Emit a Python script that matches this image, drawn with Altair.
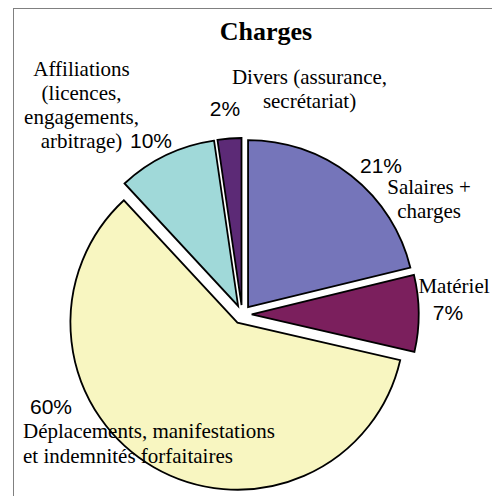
import altair as alt
import pandas as pd

# ---- data ----
keys = ["Salaires", "Materiel", "Deplacements", "Affiliations", "Divers"]
names = [
    "Salaires +\ncharges",
    "Matériel",
    "Déplacements, manifestations\net indemnités forfaitaires",
    "Affiliations\n(licences,\nengagements,\narbitrage)",
    "Divers (assurance,\nsecrétariat)",
]
values = [21.2, 7.4, 59.5, 9.6, 2.3]
title_text = "Charges"

# ---- layout / style (not data) ----
W, H = 484, 488
CX, CY, R, EXPLODE = 234.2, 306.5, 167, 9.5
colors = ["#7575BA", "#7B1F5D", "#F8F6C1", "#A0D9D9", "#5C2A76"]
name_pos = [(421, 186, "center"), (446, 285, "center"), (15, 430, "left"),
            (73.5, 68, "center"), (301.5, 76, "center")]
pct_pos = [(373, 165), (440, 312), (43, 406), (143, 140), (217, 108)]

df = pd.DataFrame({"cat": keys, "name": names, "value": values, "idx": list(range(len(keys)))})

lab = df.copy()
lab["nx"] = [p[0] for p in name_pos]
lab["ny"] = [p[1] for p in name_pos]
lab["al"] = [p[2] for p in name_pos]
lab["px"] = [p[0] for p in pct_pos]
lab["py"] = [p[1] for p in pct_pos]

pie = (
    alt.Chart(df)
    .transform_window(cum="sum(value)", sort=[alt.SortField("idx")], frame=[None, 0])
    .transform_joinaggregate(total="sum(value)")
    .transform_calculate(t1="datum.cum / datum.total * 2 * PI")
    .transform_calculate(t0="(datum.cum - datum.value) / datum.total * 2 * PI")
    .transform_calculate(mid="(datum.t0 + datum.t1) / 2")
    .transform_calculate(cx=f"{CX} + {EXPLODE} * sin(datum.mid)")
    .transform_calculate(cy=f"{CY} - {EXPLODE} * cos(datum.mid)")
    .mark_arc(radius=R, stroke="black", strokeWidth=1.8)
    .encode(
        theta=alt.Theta("t0:Q", scale=None),
        theta2="t1:Q",
        x=alt.X("cx:Q", scale=None, axis=None),
        y=alt.Y("cy:Q", scale=None, axis=None),
        color=alt.Color("cat:N", scale=alt.Scale(domain=keys, range=colors), legend=None),
    )
)

names_center = (
    alt.Chart(lab)
    .transform_filter("datum.al == 'center'")
    .mark_text(font="Liberation Serif", fontSize=21, align="center", baseline="alphabetic",
               lineBreak="\n", lineHeight=24, color="black")
    .encode(x=alt.X("nx:Q", scale=None, axis=None), y=alt.Y("ny:Q", scale=None, axis=None), text="name:N")
)

names_left = (
    alt.Chart(lab)
    .transform_filter("datum.al == 'left'")
    .mark_text(font="Liberation Serif", fontSize=21, align="left", baseline="alphabetic",
               lineBreak="\n", lineHeight=25, color="black")
    .encode(x=alt.X("nx:Q", scale=None, axis=None), y=alt.Y("ny:Q", scale=None, axis=None), text="name:N")
)

pcts = (
    alt.Chart(lab)
    .transform_calculate(pct="format(datum.value, '.0f') + '%'")
    .mark_text(font="Liberation Sans", fontSize=21, align="center", baseline="alphabetic", color="black")
    .encode(x=alt.X("px:Q", scale=None, axis=None), y=alt.Y("py:Q", scale=None, axis=None), text="pct:N")
)

one = pd.DataFrame({"t": [title_text]})
title = (
    alt.Chart(one)
    .mark_text(font="Liberation Serif", fontSize=26, fontWeight="bold", align="center",
               baseline="alphabetic", color="black")
    .encode(x=alt.value(258), y=alt.value(31.5), text="t:N")
)

border_left = alt.Chart(one).mark_rule(color="#808080", strokeWidth=1).encode(
    x=alt.value(5.5), y=alt.value(0), y2=alt.value(H))
border_top = alt.Chart(one).mark_rule(color="#808080", strokeWidth=1).encode(
    x=alt.value(5.5), x2=alt.value(W), y=alt.value(0.5))

chart = (
    alt.layer(border_left, border_top, pie, names_center, names_left, pcts, title)
    .properties(width=W, height=H, padding=0, autosize=alt.AutoSizeParams(type="none"),
                background="white")
    .configure_view(strokeWidth=0)
)

chart.save("out.html", embed_options={"renderer": "svg", "actions": False})
